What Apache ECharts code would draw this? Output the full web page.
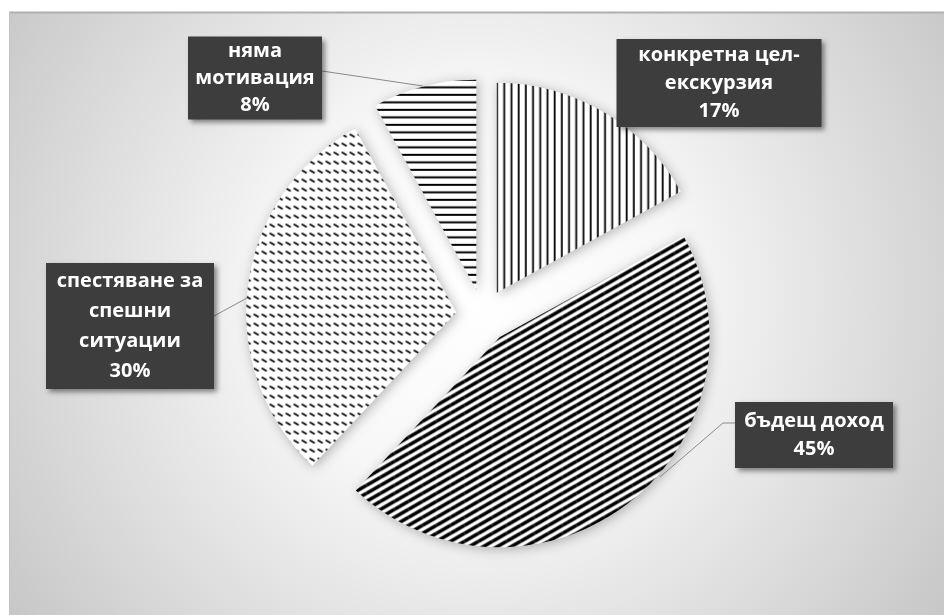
<!DOCTYPE html>
<html><head><meta charset="utf-8">
<script src="https://cdn.jsdelivr.net/npm/echarts@6/dist/echarts.min.js"></script>
<style>html,body{margin:0;padding:0;background:#fff}#c{width:944px;height:615px}</style>
</head><body><div id="c"></div>
<script>
// ---- data ----
const categories = ['конкретна цел-\nекскурзия', 'бъдещ доход', 'спестяване за\nспешни\nситуации', 'няма\nмотивация'];
const values = [17, 45, 30, 8];

// ---- layout / style config ----
const labelCfg = [
  { cx: 719, cy: 83,  w: 205, lh: 28, pad: 2, line: null },
  { cx: 814, cy: 435, w: 158, lh: 28, pad: 5, line: [[660, 477], [723, 423], [735, 423]] },
  { cx: 130, cy: 326, w: 168, lh: 30, pad: 3, line: [[247, 298], [214, 316], [214, 316]] },
  { cx: 255, cy: 78,  w: 134, lh: 27, pad: 1, line: [[423, 86], [322, 71], [322, 71]] }
];

function tile(w, h, draw) {
  const c = document.createElement('canvas');
  c.width = w; c.height = h;
  const g = c.getContext('2d');
  g.fillStyle = '#fff'; g.fillRect(0, 0, w, h);
  g.fillStyle = '#000'; g.strokeStyle = '#000';
  draw(g, w, h);
  return { image: c, repeat: 'repeat' };
}
const patVertical = tile(36, 4, (g) => { for (let i = 0; i < 5; i++) g.fillRect(i * 7.2, 0, 1.8, 4); });
const patDiagonal = tile(14, 8, (g, w, h) => {
  g.lineWidth = 3.6;
  for (let dx = -w; dx <= w; dx += w) for (let dy = -h; dy <= h; dy += h) {
    g.beginPath(); g.moveTo(dx, h + dy); g.lineTo(dx + w, dy); g.stroke();
  }
});
const patWave = tile(8, 9, (g) => {
  g.lineWidth = 1.6;
  g.beginPath(); g.moveTo(0.5, 2.5); g.lineTo(5.5, 5.5); g.stroke();
});
const patHorizontal = tile(4, 15, (g) => { g.fillRect(0, 0, 4, 2); g.fillRect(0, 7.5, 4, 2); });
const patterns = [patVertical, patDiagonal, patWave, patHorizontal];

const PIE_CENTER = [483, 316];
const PIE_RADIUS = 210;

const chart = echarts.init(document.getElementById('c'), null, { renderer: 'canvas' });

const sliceData = categories.map((n, i) => ({
  name: n, value: values[i], selected: true,
  itemStyle: { color: patterns[i] }
}));
const labelData = categories.map((n, i) => ({
  name: n, value: values[i],
  label: { width: labelCfg[i].w, lineHeight: labelCfg[i].lh, padding: [labelCfg[i].pad, 0] },
  labelLine: { show: !!labelCfg[i].line }
}));

chart.setOption({
  animation: false,
  backgroundColor: '#ffffff',
  graphic: [
    {
      type: 'rect', z: -10, silent: true,
      shape: { x: 9, y: 12, width: 935, height: 603 },
      style: {
        fill: new echarts.graphic.RadialGradient(0.5, 0.47, 0.95, [
          { offset: 0, color: '#ffffff' },
          { offset: 0.35, color: '#f7f7f7' },
          { offset: 0.75, color: '#d9d9d9' },
          { offset: 1, color: '#c6c6c6' }
        ])
      }
    },
    { type: 'line', z: -9, silent: true, shape: { x1: 9, y1: 12.5, x2: 944, y2: 12.5 }, style: { stroke: '#b0b0b0', lineWidth: 2 } },
    { type: 'line', z: -9, silent: true, shape: { x1: 9.5, y1: 12, x2: 9.5, y2: 615 }, style: { stroke: '#c4c4c4', lineWidth: 1 } }
  ],
  series: [
    {
      type: 'pie',
      center: PIE_CENTER,
      radius: PIE_RADIUS,
      startAngle: 90,
      clockwise: true,
      selectedMode: 'multiple',
      selectedOffset: 27,
      silent: true,
      emphasis: { disabled: true, scale: false },
      itemStyle: { shadowBlur: 12, shadowColor: 'rgba(0,0,0,0.28)', shadowOffsetX: 2, shadowOffsetY: 2 },
      label: { show: false },
      labelLine: { show: false },
      data: sliceData
    },
    {
      type: 'pie',
      center: PIE_CENTER,
      radius: PIE_RADIUS,
      startAngle: 90,
      clockwise: true,
      silent: true,
      z: 5,
      emphasis: { disabled: true, scale: false },
      itemStyle: { color: 'rgba(0,0,0,0)' },
      label: {
        show: true,
        position: 'outside',
        formatter: (p) => p.name + '\n' + p.value + '%',
        color: '#ffffff',
        fontFamily: 'Open Sans',
        fontWeight: 'bold',
        fontSize: 20,
        align: 'center',
        backgroundColor: '#3d3d3d',
        shadowBlur: 5,
        shadowColor: 'rgba(0,0,0,0.45)',
        shadowOffsetX: 3,
        shadowOffsetY: 3
      },
      labelLine: { show: true, lineStyle: { color: '#8a8a8a', width: 1 } },
      labelLayout: (params) => {
        const c = labelCfg[params.dataIndex];
        const o = { x: c.cx, y: c.cy, align: 'center', verticalAlign: 'middle' };
        if (c.line) o.labelLinePoints = c.line;
        return o;
      },
      data: labelData
    }
  ]
});
</script>
</body></html>
